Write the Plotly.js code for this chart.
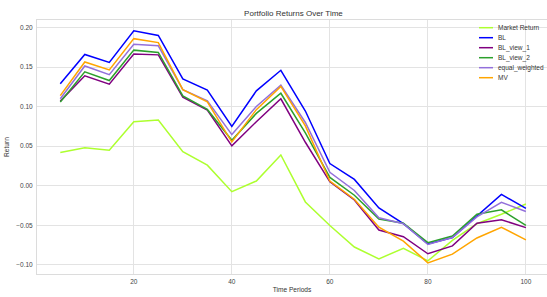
<!DOCTYPE html>
<html>
<head>
<meta charset="utf-8">
<script src="https://cdn.plot.ly/plotly-3.0.1.min.js"></script>
<style>html,body{margin:0;padding:0;background:#fff;}#chart{width:547px;height:297px;}</style>
</head>
<body>
<div id="chart"></div>
<script>
const periods = [5,10,15,20,25,30,35,40,45,50,55,60,65,70,75,80,85,90,95,100];
const marketReturn = [0.042,0.048,0.045,0.081,0.083,0.043,0.026,-0.0075,0.006,0.039,-0.0205,-0.0502,-0.0775,-0.0925,-0.079,-0.095,-0.069,-0.048,-0.036,-0.023];
const bl = [0.129,0.166,0.156,0.196,0.190,0.135,0.121,0.075,0.120,0.146,0.0945,0.028,0.008,-0.028,-0.048,-0.0735,-0.0655,-0.038,-0.011,-0.0285];
const blView1 = [0.107,0.139,0.1285,0.1665,0.1655,0.112,0.0958,0.0505,0.081,0.110,0.055,0.005,-0.018,-0.056,-0.0645,-0.086,-0.076,-0.0475,-0.043,-0.053];
const blView2 = [0.106,0.144,0.133,0.1715,0.1685,0.1135,0.0965,0.0575,0.0915,0.117,0.067,0.0105,-0.012,-0.042,-0.0475,-0.072,-0.0635,-0.036,-0.0305,-0.050];
const equalWeighted = [0.110,0.1515,0.1405,0.179,0.177,0.1215,0.1075,0.0647,0.1003,0.1273,0.080,0.017,-0.006,-0.0405,-0.048,-0.0743,-0.0655,-0.0395,-0.021,-0.0325];
const mv = [0.114,0.1565,0.1465,0.186,0.181,0.1215,0.106,0.0553,0.0962,0.1256,0.0756,0.006,-0.017,-0.0525,-0.070,-0.0975,-0.0865,-0.066,-0.0525,-0.0685];

const seriesNames = ["Market Return","BL","BL_view_1","BL_view_2","equal_weighted","MV"];
const seriesValues = [marketReturn, bl, blView1, blView2, equalWeighted, mv];
const seriesColors = ["#ADFF2F","#0000FF","#800080","#2CA02C","#9370DB","#FFA500"];
const xTicks = [20,40,60,80,100];
const yTicks = [-0.10,-0.05,0.00,0.05,0.10,0.15,0.20];

const font = "Liberation Sans, Arial, sans-serif";
const traces = seriesNames.map((n,i)=>({
  type:'scatter', mode:'lines', name:n, x:periods, y:seriesValues[i],
  line:{color:seriesColors[i], width:1.5}, showlegend:false
}));

// compact legend (matplotlib-like)
const annotations = [];
const shapes = [];
const plotW = 510, plotH = 254, mL = 37, mT = 20;
const legX0 = (479-mL)/plotW, legX1 = (493-mL)/plotW, legTX = (497-mL)/plotW;
seriesNames.forEach((n,i)=>{
  const ypx = 27.7 + 10*i;
  const yp = 1 - (ypx-mT)/plotH;
  shapes.push({type:'line', xref:'paper', yref:'paper', x0:legX0, x1:legX1, y0:yp, y1:yp,
    line:{color:seriesColors[i], width:1.5}});
  annotations.push({xref:'paper', yref:'paper', x:legTX, y:yp, xanchor:'left', yanchor:'middle',
    text:n, showarrow:false, borderpad:0, font:{family:font, size:6.5, color:'#333'}});
});

const layout = {
  width:547, height:297,
  margin:{l:mL, r:0, t:mT, b:23},
  paper_bgcolor:'#fff', plot_bgcolor:'#fff',
  font:{family:font, size:6.5, color:'#444'},
  title:{text:'Portfolio Returns Over Time', font:{family:font, size:8, color:'#333'},
         x:0.5365, xanchor:'center', y:0.955, yanchor:'middle', yref:'container'},
  xaxis:{range:[0.25,104.3], tickvals:xTicks, ticktext:xTicks.map(String), showgrid:true,
         gridcolor:'#e3e3e3', gridwidth:1, zeroline:false, showline:true, linecolor:'#dcdcdc', mirror:true,
         ticks:'', ticklabelstandoff:1, tickfont:{size:6.5,color:'#444'},
         title:{text:'Time Periods', font:{size:6.6,color:'#333'}, standoff:3}},
  yaxis:{range:[-0.1116,0.2096], tickvals:yTicks, tickformat:'.2f', showgrid:true,
         gridcolor:'#e3e3e3', gridwidth:1, zeroline:false, showline:true, linecolor:'#dcdcdc', mirror:true,
         ticks:'', ticklabelstandoff:2, tickfont:{size:6.5,color:'#444'},
         title:{text:'Return', font:{size:6.6,color:'#333'}, standoff:5}},
  shapes:shapes, annotations:annotations, showlegend:false
};
Plotly.newPlot('chart', traces, layout, {displayModeBar:false, staticPlot:true});
</script>
</body>
</html>
